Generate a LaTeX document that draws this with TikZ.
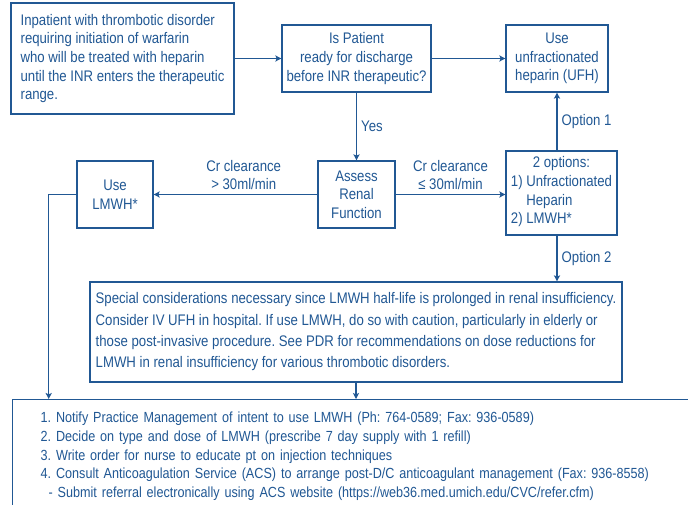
\documentclass[tikz,border=0pt]{standalone}
\usepackage{fontspec}
\setmainfont{Liberation Sans}[FakeStretch=0.86]
\usepackage{xcolor}
\usepackage{tikz}
\usetikzlibrary{positioning,arrows.meta,calc}
\definecolor{umblue}{RGB}{33,88,148}
\frenchspacing

\begin{document}
\begin{tikzpicture}[
    x=0.75pt, y=-0.75pt,
    >={Stealth[length=4.5pt,width=4.6pt,inset=1pt]},
    font=\fontsize{11.5}{14}\selectfont,
    text=umblue,
    box/.style={
        draw=umblue,
        line width=1pt,
        inner sep=3pt,
        align=center
    },
    arr/.style={->, draw=umblue, line width=1pt},
    lbl/.style={inner sep=3pt, align=center}
]

\useasboundingbox[fill=white] (0,0) rectangle (688,505);
\clip (0,0) rectangle (688,505);

% top row
\node[box, align=left, minimum width=167.25pt, minimum height=83.25pt] (patient) at (122.5,58.5)
{Inpatient with thrombotic disorder\\
requiring initiation of warfarin\\
who will be treated with heparin\\
until the INR enters the therapeutic\\
range.};

\node[box, minimum width=111.75pt, minimum height=50.25pt] (discharge) at (356.5,58.5)
{Is Patient\\ready for discharge\\before INR therapeutic?};

\node[box, minimum width=76.5pt, minimum height=50.25pt] (ufh) at (557,58.5)
{Use\\unfractionated\\heparin (UFH)};

% middle row
\node[box, minimum width=57.75pt, minimum height=50.25pt] (renal) at (356.5,194.5)
{Assess\\Renal\\Function};

\node[box, minimum width=83.25pt, minimum height=63pt] (options) at (561.5,193)
{2 options:\\
\begin{tabular}[t]{@{}l@{}}1) Unfractionated\\\phantom{1) }Heparin\\2) LMWH*\end{tabular}};

\node[box, minimum width=57pt, minimum height=50.25pt] (lmwh) at (115,194.5)
{Use\\LMWH*};

% notes
\node[box, align=left, minimum width=399pt, minimum height=75pt,
      font=\fontsize{11.5}{16}\selectfont] (special) at (356,332)
{Special considerations necessary since LMWH half-life is prolonged in renal insufficiency.\\
Consider IV UFH in hospital. If use LMWH, do so with caution, particularly in elderly or\\
those post-invasive procedure. See PDR for recommendations on dose reductions for\\
LMWH in renal insufficiency for various thrombotic disorders.};

\node[box, align=left, anchor=north west, text width=520pt, inner xsep=21pt,
      minimum height=85pt, font=\fontsize{11}{14}\selectfont] (steps) at (12,399)
{1. Notify Practice Management of intent to use LMWH (Ph: 764-0589; Fax: 936-0589)\\
2. Decide on type and dose of LMWH (prescribe 7 day supply with 1 refill)\\
3. Write order for nurse to educate pt on injection techniques\\
4. Consult Anticoagulation Service (ACS) to arrange post-D/C anticoagulant management (Fax: 936-8558)\\
\hspace*{6pt}- Submit referral electronically using ACS website (https://web36.med.umich.edu/CVC/refer.cfm)};

% connectors
\draw[arr] (patient) -- (discharge);
\draw[arr] (discharge) -- (ufh);
\draw[arr] (discharge) -- node[lbl, right] {Yes} (renal);
\draw[arr] (renal.east) -- node[lbl, above] {Cr clearance\\≤ 30ml/min} (renal.east -| options.west);
\draw[arr] (renal) -- node[lbl, above, pos=0.45] {Cr clearance\\> 30ml/min} (lmwh);
\draw[arr] (options.north -| ufh.south) -- node[lbl, right] {Option 1} (ufh.south);
\draw[arr] (options.south -| ufh.south) -- node[lbl, right] {Option 2} (ufh.south |- special.north);

\coordinate (elbow) at (48.7,194.5);
\draw[arr] (lmwh.west) -- (elbow) -- (elbow |- steps.north);
\draw[arr] (special.south) -- (special.south |- steps.north);

\end{tikzpicture}
\end{document}
